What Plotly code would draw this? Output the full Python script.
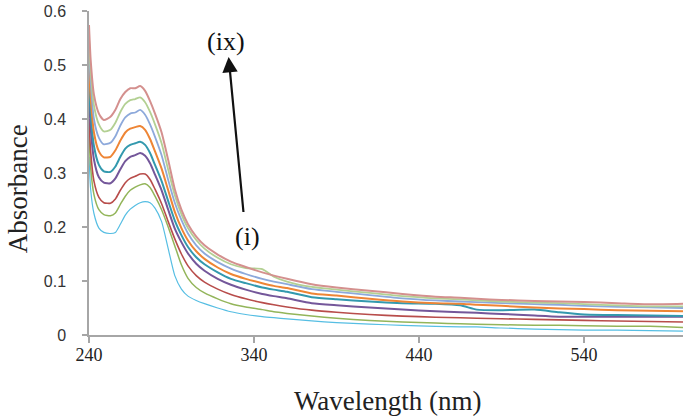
import plotly.graph_objects as go

wavelength = [240, 241, 243, 246, 249, 253, 256, 259, 262, 265, 268, 271, 274, 277, 280, 284, 288, 292,
              296, 300, 305, 310, 318, 326, 335, 345, 352, 360, 375, 390, 410, 430, 450, 465, 475, 490,
              510, 525, 540, 560, 580, 600]

abs_i = [.33, .27, .225, .198, .19, .188, .19, .205, .222, .233, .24, .245, .247, .245, .235, .21, .16, .11,
         .085, .072, .064, .058, .05, .043, .038, .034, .032, .03, .026, .023, .02, .018, .016, .015, .015, .013,
         .011, .01, .009, .009, .008, .007]
abs_ii = [.37, .31, .26, .232, .223, .221, .226, .242, .257, .268, .274, .278, .28, .273, .257, .232, .2, .165,
          .13, .105, .088, .078, .067, .058, .052, .047, .043, .04, .035, .031, .027, .024, .022, .021, .02, .019,
          .018, .018, .017, .016, .016, .014]
abs_iii = [.40, .34, .285, .255, .245, .244, .252, .268, .282, .29, .294, .298, .298, .288, .27, .243, .21, .178,
           .15, .128, .11, .098, .085, .075, .067, .06, .056, .052, .046, .042, .038, .035, .033, .032, .031, .03,
           .029, .028, .027, .026, .025, .024]
abs_iv = [.44, .385, .325, .292, .282, .281, .29, .307, .322, .33, .333, .337, .332, .318, .297, .268, .232, .197,
          .172, .151, .132, .119, .104, .093, .084, .076, .072, .068, .059, .055, .051, .047, .044, .042, .041, .039,
          .036, .034, .034, .034, .034, .034]
abs_v = [.47, .41, .35, .315, .303, .302, .312, .33, .345, .352, .355, .358, .352, .337, .315, .285, .248, .212,
         .185, .163, .144, .131, .116, .104, .096, .088, .084, .08, .07, .066, .062, .059, .058, .055, .047, .046,
         .047, .042, .038, .037, .036, .035]
abs_vi = [.50, .44, .375, .34, .329, .33, .342, .36, .375, .382, .385, .387, .38, .363, .34, .308, .268, .228,
          .198, .175, .155, .141, .125, .113, .104, .096, .091, .087, .077, .073, .067, .062, .059, .058, .056, .054,
          .051, .049, .048, .046, .045, .044]
abs_vii = [.53, .47, .40, .365, .353, .356, .368, .388, .403, .41, .412, .417, .408, .39, .367, .333, .287, .245,
           .213, .188, .166, .151, .135, .123, .113, .104, .099, .094, .085, .08, .074, .068, .064, .062, .061, .059,
           .057, .056, .054, .052, .051, .05]
abs_viii = [.55, .49, .425, .39, .377, .38, .393, .413, .428, .435, .437, .44, .431, .413, .39, .355, .306, .259,
            .224, .198, .176, .16, .143, .131, .124, .122, .108, .099, .089, .084, .078, .072, .068, .066, .064, .062,
            .06, .059, .057, .055, .053, .053]
abs_ix = [.574, .51, .445, .41, .398, .404, .417, .437, .45, .457, .457, .461, .452, .433, .41, .375, .324, .27,
          .232, .205, .182, .166, .149, .136, .126, .116, .11, .104, .094, .088, .082, .076, .071, .069, .067, .065,
          .063, .062, .061, .059, .057, .058]

series_names = ["(i)", "(ii)", "(iii)", "(iv)", "(v)", "(vi)", "(vii)", "(viii)", "(ix)"]
series_values = [abs_i, abs_ii, abs_iii, abs_iv, abs_v, abs_vi, abs_vii, abs_viii, abs_ix]
series_colors = ["#56BEE3", "#93B55A", "#B84D4B", "#74579A", "#3399AE", "#EE8535", "#8DA9DB", "#B3D093", "#D4908E"]
series_widths = [1.2, 1.5, 1.6, 2.0, 2.0, 2.0, 1.8, 1.8, 2.0]

x_ticks = [240, 340, 440, 540]
y_ticks = [0, 0.1, 0.2, 0.3, 0.4, 0.5, 0.6]
y_tick_labels = ["0", "0.1", "0.2", "0.3", "0.4", "0.5", "0.6"]

fig = go.Figure()
for name, vals, col, w in zip(series_names, series_values, series_colors, series_widths):
    fig.add_trace(go.Scatter(x=wavelength, y=vals, mode="lines", name=name,
                             line=dict(color=col, width=w, shape="spline", smoothing=0.6)))

axis_col = "#A6A6A6"
fig.update_layout(
    width=685, height=419,
    margin=dict(l=89, r=2, t=11, b=84),
    paper_bgcolor="white", plot_bgcolor="white",
    showlegend=False,
    xaxis=dict(range=[240, 600], tickvals=x_ticks, ticktext=[str(t) for t in x_ticks],
               showgrid=False, zeroline=False, showline=True, linecolor=axis_col, linewidth=1.5,
               ticks="outside", ticklen=6, tickcolor=axis_col, tickwidth=1.5,
               tickfont=dict(family="Liberation Serif", size=18, color="#222"), ticklabelstandoff=-3),
    yaxis=dict(range=[0, 0.6], tickvals=y_ticks, ticktext=y_tick_labels,
               showgrid=False, zeroline=False, showline=True, linecolor=axis_col, linewidth=1.5,
               ticks="outside", ticklen=5, tickcolor=axis_col, tickwidth=1.5,
               tickfont=dict(family="Liberation Sans", size=16, color="#333"), ticklabelstandoff=13),
)

fig.add_annotation(text="Absorbance", xref="paper", yref="paper", x=0, y=0.45, xanchor="center",
                   yanchor="middle", xshift=-71, textangle=-90, showarrow=False,
                   font=dict(family="Liberation Serif", size=27, color="#222"))
fig.add_annotation(text="Wavelength (nm)", xref="paper", yref="paper", x=0.503, y=0, xanchor="center",
                   yanchor="middle", yshift=-66, showarrow=False,
                   font=dict(family="Liberation Serif", size=27, color="#222"))

fig.add_annotation(x=324.6, y=0.515, ax=333.7, ay=0.225, xref="x", yref="y", axref="x", ayref="y",
                   showarrow=True, arrowhead=2, arrowsize=1.4, arrowwidth=2.2, arrowcolor="#111", text="")
fig.add_annotation(text="(ix)", x=323.2, y=0.543, xref="x", yref="y", showarrow=False,
                   font=dict(family="Liberation Serif", size=26, color="#111"))
fig.add_annotation(text="(i)", x=335.9, y=0.183, xref="x", yref="y", showarrow=False,
                   font=dict(family="Liberation Serif", size=26, color="#111"))

fig.write_html("out.html", config={"displayModeBar": False},
               post_script="document.body.style.margin='0';document.body.style.overflow='hidden';")
